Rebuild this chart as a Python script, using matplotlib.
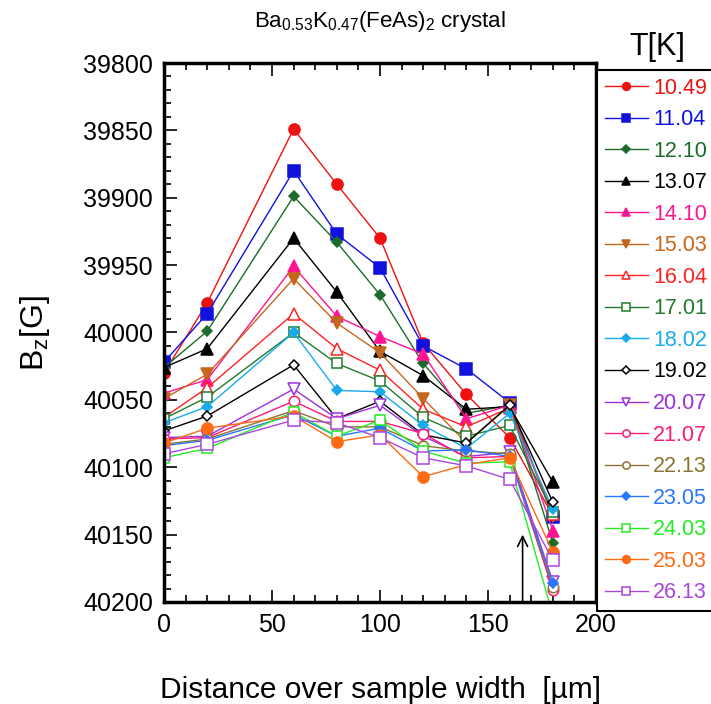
import matplotlib
matplotlib.use("Agg")
import matplotlib.pyplot as plt
from matplotlib.ticker import MultipleLocator

plt.rcParams["font.family"] = ["Liberation Sans", "DejaVu Sans"]
plt.rcParams["mathtext.fontset"] = "custom"
plt.rcParams["mathtext.rm"] = "Liberation Sans"
plt.rcParams["mathtext.it"] = "Liberation Sans:italic"

# distance over sample width [um]
positions = [0, 20, 60, 80, 100, 120, 140, 160, 180]

temperatures = ["10.49", "11.04", "12.10", "13.07", "14.10", "15.03", "16.04", "17.01",
                "18.02", "19.02", "20.07", "21.07", "22.13", "23.05", "24.03", "25.03", "26.13"]

# B_z [G] for each temperature
bz_10_49 = [40030, 39978, 39849, 39890, 39930, 40008, 40046, 40078, 40136]
bz_11_04 = [40022, 39986, 39880, 39927, 39952, 40010, 40027, 40052, 40137]
bz_12_10 = [40026, 39999, 39899, 39933, 39972, 40023, 40060, 40054, 40156]
bz_13_07 = [40026, 40012, 39930, 39970, 40014, 40032, 40057, 40055, 40111]
bz_14_10 = [40045, 40035, 39951, 39988, 40003, 40016, 40064, 40054, 40147]
bz_15_03 = [40049, 40031, 39960, 39993, 40015, 40049, 40082, 40054, 40136]
bz_16_04 = [40063, 40041, 39986, 40012, 40028, 40057, 40070, 40056, 40135]
bz_17_01 = [40064, 40048, 40000, 40023, 40036, 40063, 40077, 40069, 40133]
bz_18_02 = [40067, 40055, 40000, 40043, 40044, 40069, 40086, 40060, 40131]
bz_19_02 = [40073, 40062, 40024, 40064, 40051, 40076, 40082, 40054, 40126]
bz_20_07 = [40078, 40077, 40042, 40064, 40054, 40077, 40092, 40089, 40185]
bz_21_07 = [40079, 40078, 40051, 40066, 40066, 40075, 40093, 40092, 40191]
bz_22_13 = [40083, 40079, 40058, 40070, 40070, 40084, 40088, 40090, 40189]
bz_23_05 = [40084, 40080, 40061, 40077, 40071, 40088, 40087, 40092, 40186]
bz_24_03 = [40093, 40086, 40059, 40077, 40065, 40088, 40097, 40096, 40210]
bz_25_03 = [40082, 40071, 40062, 40081, 40076, 40107, 40098, 40093, 40163]
bz_26_13 = [40090, 40083, 40065, 40067, 40078, 40093, 40099, 40109, 40169]

series = [bz_10_49, bz_11_04, bz_12_10, bz_13_07, bz_14_10, bz_15_03, bz_16_04, bz_17_01,
          bz_18_02, bz_19_02, bz_20_07, bz_21_07, bz_22_13, bz_23_05, bz_24_03, bz_25_03, bz_26_13]

# (color, marker, filled, marker size)
styles = [
    ("#ee1111", "o", True, 8),
    ("#1111dd", "s", True, 8),
    ("#1c6b2c", "D", True, 5.5),
    ("#000000", "^", True, 8),
    ("#ff1493", "^", True, 8),
    ("#c4661c", "v", True, 8),
    ("#ff2222", "^", False, 8),
    ("#217a2e", "s", False, 7.5),
    ("#19aaee", "D", True, 5.5),
    ("#000000", "D", False, 5.5),
    ("#9b30e0", "v", False, 8),
    ("#ff1a77", "o", False, 7.5),
    ("#8a7530", "o", False, 7.5),
    ("#2a75ff", "D", True, 5.5),
    ("#22ee22", "s", False, 7.5),
    ("#ff6a14", "o", True, 8),
    ("#a946dd", "s", False, 8),
]

arrow_x = 166
arrow_from = 40200
arrow_to = 40150

fig = plt.figure(figsize=(7.11, 7.04), dpi=100)
ax = fig.add_axes([0.2307, 0.1449, 0.6076, 0.7656])

for label, values, (color, marker, filled, ms) in zip(temperatures, series, styles):
    ax.plot(positions, values, color=color, linewidth=1.0, marker=marker, markersize=ms,
            markerfacecolor=color if filled else "white", markeredgecolor=color,
            markeredgewidth=1.1, label=label)

ax.annotate("", xy=(arrow_x, arrow_to), xytext=(arrow_x, arrow_from),
            arrowprops=dict(arrowstyle="->", color="black", lw=1.2,
                            mutation_scale=18, shrinkA=0, shrinkB=0))

ax.set_xlim(0, 200)
ax.set_ylim(40200, 39800)
ax.xaxis.set_major_locator(MultipleLocator(50))
ax.xaxis.set_minor_locator(MultipleLocator(10))
ax.yaxis.set_major_locator(MultipleLocator(50))
ax.yaxis.set_minor_locator(MultipleLocator(10))
ax.tick_params(which="both", direction="in", top=True, right=False, width=1.2)
ax.tick_params(which="major", length=9, labelsize=18, pad=8)
ax.tick_params(which="minor", length=5)
for spine in ax.spines.values():
    spine.set_linewidth(2.5)
fig.canvas.draw()
ax.get_xticklabels()[-1].set_ha("right")

ax.set_xlabel("Distance over sample width  [µm]", fontsize=21.5, labelpad=28)
ax.set_ylabel(r"B$_\mathrm{z}$[G]", fontsize=23, labelpad=22)
ax.set_title(r"Ba$_{0.53}$K$_{0.47}$(FeAs)$_2$ crystal", fontsize=16, pad=26)

leg = ax.legend(loc="upper left", bbox_to_anchor=(1.003, 0.987), borderaxespad=0,
                fontsize=15.5, frameon=True, fancybox=False, edgecolor="black",
                framealpha=1, handlelength=2.0, handletextpad=0.25, labelspacing=0.49,
                borderpad=0.35, markerscale=0.7)
leg.get_frame().set_linewidth(1.5)
for text, (color, _, _, _) in zip(leg.get_texts(), styles):
    text.set_color(color)

fig.text(0.924, 0.933, "T[K]", fontsize=22, ha="center", va="center")

fig.savefig("out.png", dpi=100)
